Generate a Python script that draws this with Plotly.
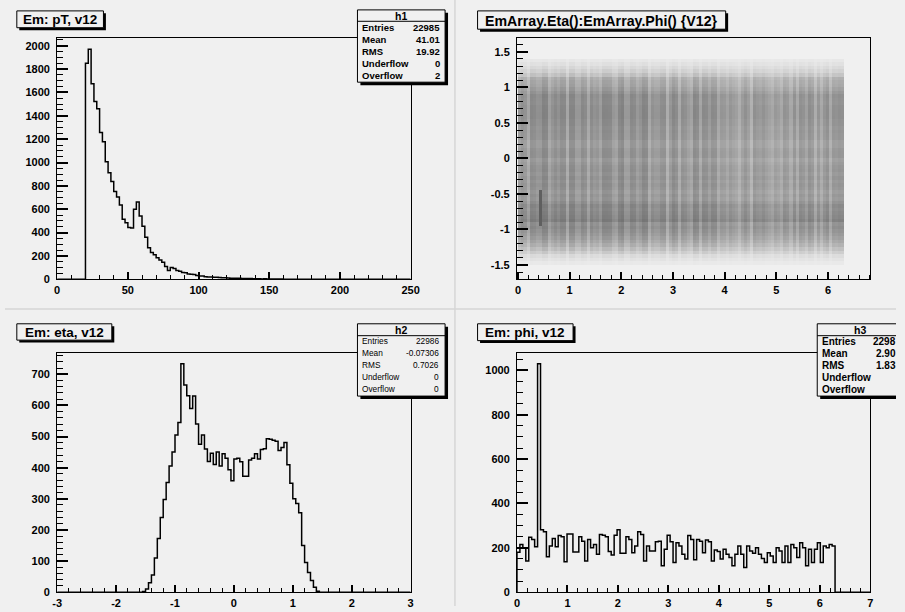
import numpy as np
import plotly.graph_objects as go

W, H = 905, 612
BG = "#f0f0f0"
FONT = "Liberation Sans, Arial, sans-serif"

# ---------------- data ----------------
# h1 : Em pT, 125 bins on [0, 250]; filled bins start at pT = 20
pt_range = (0.0, 250.0)
pt_nbins = 125
pt_first_bin = 10
pt_counts = [1850, 1970, 1674, 1523, 1461, 1257, 1177, 1007, 913, 837,
             752, 704, 635, 513, 485, 443, 440, 600, 662, 542,
             455, 360, 270, 230, 210, 185, 165, 145, 110, 75,
             100, 92, 75, 68, 58, 55, 45, 42, 40, 32,
             28, 27, 22, 20, 19, 18, 16, 15, 13, 12,
             10, 9, 9, 8, 8, 7, 7, 6, 6, 5,
             5, 4, 3, 4, 2, 2, 2, 1, 1, 1]

# h2 : Em eta, 120 bins on [-3, 3]; filled bins start at eta = -1.55
eta_range = (-3.0, 3.0)
eta_nbins = 120
eta_first_bin = 29
eta_counts = [2, 10, 30, 55, 110, 172, 240, 298, 352, 405,
              450, 505, 545, 734, 666, 631, 590, 630, 540, 475,
              505, 460, 420, 446, 410, 450, 405, 445, 430, 393,
              358, 428, 430, 419, 372, 372, 425, 430, 445, 428,
              458, 461, 493, 491, 488, 485, 455, 465, 481, 409,
              350, 300, 285, 255, 150, 95, 63, 37, 16, 3]

# h3 : Em phi, 120 bins on [0, 7]; filled bins start at phi = 0
phi_range = (0.0, 7.0)
phi_nbins = 120
phi_first_bin = 0
phi_counts = [180, 215, 200, 141, 248, 238, 205, 1030, 282, 272,
              160, 208, 242, 205, 256, 250, 137, 262, 262, 181,
              181, 250, 230, 141, 238, 200, 215, 171, 260, 257,
              250, 183, 168, 257, 282, 175, 175, 250, 238, 178,
              208, 272, 260, 141, 208, 186, 186, 227, 230, 119,
              193, 257, 227, 134, 223, 208, 171, 149, 256, 238,
              146, 238, 230, 178, 235, 227, 141, 190, 183, 149,
              193, 171, 156, 119, 171, 208, 171, 111, 208, 186,
              175, 200, 171, 152, 134, 178, 163, 134, 200, 186,
              134, 208, 134, 215, 200, 156, 223, 200, 119, 193,
              134, 193, 223, 134, 208, 200, 215, 208]

# eta:phi scatter -- hot spot visible as a dark vertical line
hot_phi_bin = 7                 # phi bin holding the spike
hot_phi_baseline = 210          # phi level of neighbouring bins
hot_eta_span = (-0.95, -0.45)   # eta extent of the dark line

# statistics boxes
stats_h1 = [("Entries", "22985"), ("Mean", "41.01"), ("RMS", "19.92"),
            ("Underflow", "0"), ("Overflow", "2")]
stats_h2 = [("Entries", "22986"), ("Mean", "-0.07306"), ("RMS", "0.7026"),
            ("Underflow", "0"), ("Overflow", "0")]
stats_h3 = [("Entries", "2298"), ("Mean", "2.90"), ("RMS", "1.83"),
            ("Underflow", ""), ("Overflow", "")]

titles = ["Em: pT, v12", "EmArray.Eta():EmArray.Phi() {V12}",
          "Em: eta, v12", "Em: phi, v12"]


# ---------------- helpers ----------------
def full_counts(nbins, first, counts):
    arr = np.zeros(nbins)
    arr[first:first + len(counts)] = counts
    return arr


def step_xy(rng, nbins, first, counts):
    c = full_counts(nbins, first, counts)
    edges = np.linspace(rng[0], rng[1], nbins + 1)
    xs = [edges[0]] + list(edges[:-1]) + [edges[-1]]
    ys = [0.0] + list(c) + [0.0]
    return xs, ys


def X(px):
    return px / W


def Y(py):
    return 1 - py / H


def axis(dom, rng, dtick, mdtick, tlen, mlen, tick0=0.0, vals=None, texts=None, anchor=None, standoff=3):
    d = dict(domain=dom, range=rng, showline=True, linecolor="black", linewidth=1,
             mirror=True, ticks="inside", ticklen=tlen, tickwidth=1.6, tickcolor="black",
             showgrid=False, zeroline=False, fixedrange=True, anchor=anchor,
             ticklabelstandoff=standoff,
             tickfont=dict(family=FONT, size=11, color="black", weight="bold"),
             minor=dict(ticks="inside", ticklen=mlen, tickwidth=1, tickcolor="black",
                        tickmode="linear", tick0=tick0, dtick=mdtick, showgrid=False))
    if vals is not None:
        d.update(tickmode="array", tickvals=vals, ticktext=texts)
    else:
        d.update(tickmode="linear", tick0=tick0, dtick=dtick)
    return d


fig = go.Figure()
line = dict(color="black", width=1.5, shape="hv")

xs, ys = step_xy(pt_range, pt_nbins, pt_first_bin, pt_counts)
fig.add_trace(go.Scatter(x=xs, y=ys, mode="lines", line=line, xaxis="x", yaxis="y", hoverinfo="skip"))

xs, ys = step_xy(eta_range, eta_nbins, eta_first_bin, eta_counts)
fig.add_trace(go.Scatter(x=xs, y=ys, mode="lines", line=line, xaxis="x3", yaxis="y3", hoverinfo="skip"))

xs, ys = step_xy(phi_range, phi_nbins, phi_first_bin, phi_counts)
fig.add_trace(go.Scatter(x=xs, y=ys, mode="lines", line=line, xaxis="x4", yaxis="y4", hoverinfo="skip"))

# 2D density of the eta:phi scatter built from the two marginals
eta_full = full_counts(eta_nbins, eta_first_bin, eta_counts)
phi_full = full_counts(phi_nbins, phi_first_bin, phi_counts)
eta_w = (eta_range[1] - eta_range[0]) / eta_nbins
phi_w = (phi_range[1] - phi_range[0]) / phi_nbins
eta_c = eta_range[0] + eta_w * (np.arange(eta_nbins) + 0.5)
phi_c = phi_range[0] + phi_w * (np.arange(phi_nbins) + 0.5)
hot_rows = (eta_c > hot_eta_span[0]) & (eta_c < hot_eta_span[1])
excess = phi_full[hot_phi_bin] - hot_phi_baseline
phi_base = phi_full.copy()
phi_base[hot_phi_bin] = hot_phi_baseline
eta_base = eta_full.copy()
eta_base[hot_rows] -= excess / hot_rows.sum()
total = phi_base.sum()
z = np.outer(eta_base, phi_base) / total
z[hot_rows, hot_phi_bin] += excess / hot_rows.sum()
# ink coverage of ~1px dots: saturating with the number of points in a cell
cover = 1.0 - np.exp(-z / 4.5)
cover = np.where(z > 0.05, cover, np.nan)
fig.add_trace(go.Heatmap(x=phi_c, y=eta_c, z=cover, xaxis="x2", yaxis="y2", showscale=False,
                         zmin=0, zmax=1, hoverinfo="skip",
                         colorscale=[[0, "rgb(236,236,236)"], [1, "rgb(95,95,95)"]]))

# ---------------- axes ----------------
LX = [X(53), X(412)]
RX = [X(520), X(879)]
TY = [Y(282), Y(38)]
BY = [Y(598), Y(356)]

eta_tv = [-1.5, -1, -0.5, 0, 0.5, 1, 1.5]
eta_tt = ["-1.5", "-1", "-0.5", "0", "0.5", "1", "1.5"]
x3_tv = [-3, -2, -1, 0, 1, 2, 3]
x3_tt = ["-3", "-2", "-1", "0", "1", "2", "3"]

fig.update_layout(
    xaxis=axis(LX, [0, 250], 50, 10, 7, 4, anchor="y", standoff=1),
    yaxis=axis(TY, [0, 2070], 200, 50, 11, 6, anchor="x", standoff=4),
    xaxis2=axis(RX, [-0.02, 6.82], 1, 0.2, 7, 4, anchor="y2", standoff=1),
    yaxis2=axis(TY, [-1.70, 1.70], 0.5, 0.1, 11, 6, tick0=-1.5, vals=eta_tv, texts=eta_tt, anchor="x2", standoff=4),
    xaxis3=axis(LX, [-3, 3], 1, 0.2, 7, 4, tick0=-3, vals=x3_tv, texts=x3_tt, anchor="y3", standoff=1),
    yaxis3=axis(BY, [0, 770], 100, 20, 11, 6, anchor="x3", standoff=4),
    xaxis4=axis(RX, [0, 7], 1, 0.2, 7, 4, anchor="y4", standoff=1),
    yaxis4=axis(BY, [0, 1081], 200, 50, 11, 6, anchor="x4", standoff=4),
)

# ---------------- decorations ----------------
shapes = []
annotations = []

# pad separators
shapes.append(dict(type="line", xref="paper", yref="paper", x0=X(457), x1=X(457), y0=0, y1=1,
                   line=dict(color="#d6d6d6", width=1.5), layer="below"))
shapes.append(dict(type="line", xref="paper", yref="paper", x0=0, x1=1, y0=Y(312), y1=Y(312),
                   line=dict(color="#d6d6d6", width=1.5), layer="below"))


def rect(x0, y0, x1, y1, fill, lw):
    shapes.append(dict(type="rect", xref="paper", yref="paper", x0=X(x0), x1=X(x1), y0=Y(y1), y1=Y(y0),
                       fillcolor=fill, line=dict(color="black", width=lw), layer="above"))


def seg(x0, y0, x1, y1, lw=1):
    shapes.append(dict(type="line", xref="paper", yref="paper", x0=X(x0), x1=X(x1), y0=Y(y0), y1=Y(y1),
                       line=dict(color="black", width=lw), layer="above"))


def box(x0, y0, x1, y1, shadow=3, open_right=False):
    if open_right:
        rect(x0 + shadow, y0 + shadow, W, y1 + shadow, "black", 0)
        rect(x0, y0, W, y1, BG, 0)
        seg(x0, y0, W, y0)
        seg(x0, y1, W, y1)
        seg(x0, y0, x0, y1)
    else:
        rect(x0 + shadow, y0 + shadow, x1 + shadow, y1 + shadow, "black", 0)
        rect(x0, y0, x1, y1, BG, 1)


def text(px, py, s, size, anchor="center", bold=True):
    if not s:
        return
    annotations.append(dict(xref="paper", yref="paper", x=X(px), y=Y(py), text=s, showarrow=False,
                            xanchor=anchor, yanchor="middle", borderpad=0,
                            font=dict(family=FONT, size=size, color="black",
                                      weight="bold" if bold else "normal")))


# title boxes
tb = [(12, 11, 100, 28), (480, 11, 732, 29.5), (12, 327, 108.5, 343.5), (480, 327, 577, 344)]
for (x0, y0, x1, y1), t in zip(tb, titles):
    box(x0, y0, x1, y1, shadow=2.5)
    text((x0 + x1) / 2, (y0 + y1) / 2 + 0.5, t, 13.5 if len(t) < 20 else 14.2)


# stats boxes
def stats(x0, y0, x1, y1, name, rows, hdr_x, hdr_y, sep_y, row_ys, lx, rx, size, bold, open_right=False):
    box(x0, y0, x1, y1, shadow=3, open_right=open_right)
    seg(x0, sep_y, min(x1, W), sep_y)
    text(hdr_x, hdr_y, name, 10.5, bold=True)
    for (k, v), ry in zip(rows, row_ys):
        text(lx, ry, k, size, "left", bold)
        text(rx, ry, v, size, "right", bold)


stats(358, 10, 447, 83, "h1", stats_h1, 402.5, 16.3, 21.5, [27.7, 40, 52.3, 64, 76.5], 361.5, 443, 9.5, True)
stats(358, 327, 447, 400, "h2", stats_h2, 402.5, 333.5, 339, [344.5, 356.7, 368.5, 380.7, 392.7], 361.5, 442, 8.3, False)
stats(825, 327, W, 400, "h3", stats_h3, 868.3, 333.3, 339, [345, 357.3, 369, 381.7, 393.3], 829, 906, 10, True,
      open_right=True)

fig.update_layout(
    width=W, height=H, margin=dict(l=0, r=0, t=0, b=0),
    paper_bgcolor=BG, plot_bgcolor=BG, showlegend=False,
    shapes=shapes, annotations=annotations,
)

fig.write_html("out.html")
